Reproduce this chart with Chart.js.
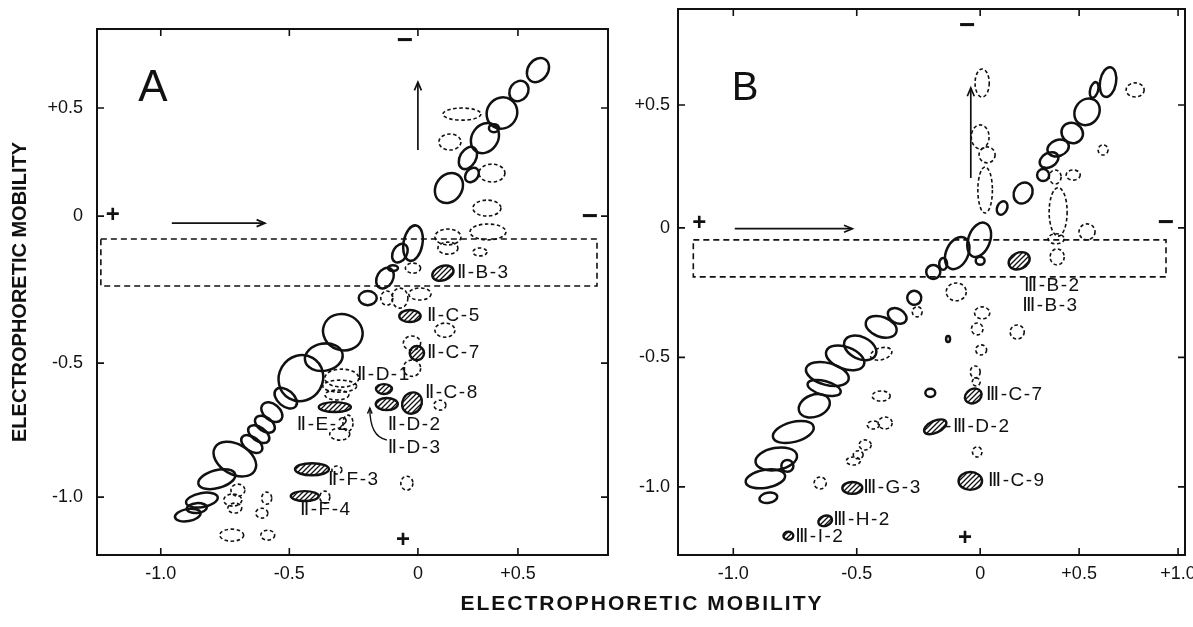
<!DOCTYPE html>
<html>
<head>
<meta charset="utf-8">
<script src="https://cdn.jsdelivr.net/npm/chart.js@4.4.1/dist/chart.umd.min.js"></script>
<style>
  html, body { margin: 0; padding: 0; background: #fff; }
  #page { position: relative; width: 1193px; height: 627px; overflow: hidden; }
  #panel-a { position: absolute; left: 0; top: 0; }
  #panel-b { position: absolute; left: 600px; top: 0; }
  #x-title {
    position: absolute; left: 442px; top: 591px; width: 400px;
    text-align: center; line-height: 30px; color: #111;
    font: bold 21px "Liberation Sans", Arial, sans-serif; letter-spacing: 2px;
  }
</style>
</head>
<body>
<div id="page">
  <canvas id="panel-a" width="640" height="627"></canvas>
  <canvas id="panel-b" width="593" height="627"></canvas>
  <div id="x-title">ELECTROPHORETIC MOBILITY</div>
</div>
<script>
// axis ticks (mobility units)
const yTicks = [-1.0, -0.5, 0, 0.5];
const yTickLabels = ['-1.0', '-0.5', '0', '+0.5'];
const xTicksA = [-1.0, -0.5, 0, 0.5];
const xTickLabelsA = ['-1.0', '-0.5', '0', '+0.5'];
const xTicksB = [-1.0, -0.5, 0, 0.5, 1.0];
const xTickLabelsB = ['-1.0', '-0.5', '0', '+0.5', '+1.0'];

// spots: [x mobility, y mobility, width, height, tilt deg]
const solidA = [
  [0.60, 0.676, 0.10, 0.12, 35], [0.505, 0.579, 0.09, 0.10, 35], [0.42, 0.477, 0.15, 0.148, 35],
  [0.38, 0.407, 0.05, 0.037, 0], [0.335, 0.361, 0.13, 0.148, 35], [0.25, 0.269, 0.08, 0.111, 30],
  [0.27, 0.19, 0.06, 0.074, 40], [0.155, 0.13, 0.13, 0.148, 35], [-0.019, -0.092, 0.078, 0.122, 10],
  [-0.07, -0.126, 0.054, 0.068, 30], [-0.097, -0.177, 0.039, 0.02, 0], [-0.128, -0.211, 0.062, 0.075, 30],
  [-0.195, -0.279, 0.07, 0.048, 0], [-0.292, -0.395, 0.156, 0.122, 20], [-0.366, -0.48, 0.148, 0.095, -10],
  [-0.455, -0.556, 0.171, 0.172, 30], [-0.514, -0.631, 0.101, 0.06, 40], [-0.568, -0.683, 0.093, 0.06, 40],
  [-0.595, -0.728, 0.086, 0.052, 35], [-0.619, -0.765, 0.093, 0.052, 35], [-0.646, -0.802, 0.093, 0.052, 35],
  [-0.712, -0.858, 0.179, 0.112, 30], [-0.782, -0.933, 0.148, 0.067, -15], [-0.84, -1.011, 0.125, 0.052, -10],
  [-0.86, -1.041, 0.078, 0.037, -5], [-0.895, -1.067, 0.101, 0.045, -10]
];
const dashedA = [
  [0.22, 0.472, 0.19, 0.056, 0], [0.16, 0.343, 0.11, 0.074, 0], [0.37, 0.199, 0.13, 0.083, 0],
  [0.345, 0.037, 0.14, 0.074, 0], [0.35, -0.054, 0.18, 0.054, 0], [0.15, -0.071, 0.13, 0.054, 0],
  [0.15, -0.109, 0.10, 0.041, 0], [0.31, -0.122, 0.07, 0.027, 0], [-0.019, -0.177, 0.062, 0.034, 0],
  [-0.121, -0.279, 0.047, 0.048, 0], [-0.07, -0.279, 0.062, 0.068, 0], [0.01, -0.265, 0.10, 0.041, 0],
  [0.135, -0.388, 0.10, 0.048, 0], [-0.023, -0.432, 0.07, 0.048, 0], [-0.023, -0.519, 0.07, 0.06, 0],
  [-0.296, -0.556, 0.132, 0.067, 0], [-0.304, -0.586, 0.132, 0.045, 0], [-0.315, -0.619, 0.093, 0.037, 0],
  [-0.304, -0.765, 0.078, 0.045, 0], [-0.272, -0.724, 0.039, 0.06, 0], [-0.70, -0.974, 0.054, 0.045, 0],
  [-0.72, -1.011, 0.07, 0.045, 0], [-0.712, -1.041, 0.054, 0.037, 0], [-0.588, -1.004, 0.039, 0.045, 0],
  [-0.607, -1.06, 0.047, 0.037, 0], [-0.724, -1.142, 0.093, 0.045, 0], [-0.584, -1.142, 0.054, 0.037, 0],
  [-0.315, -0.899, 0.039, 0.03, 0], [-0.362, -1.0, 0.039, 0.045, 0], [-0.043, -0.948, 0.047, 0.052, 0],
  [0.11, -0.657, 0.06, 0.037, 0]
];
const hatchedA = [
  [0.125, -0.194, 0.11, 0.048, -20], [-0.031, -0.34, 0.086, 0.041, 0], [-0.004, -0.466, 0.062, 0.048, 0],
  [-0.132, -0.597, 0.062, 0.037, 0], [-0.121, -0.653, 0.086, 0.045, 0], [-0.023, -0.649, 0.078, 0.082, 30],
  [-0.323, -0.664, 0.125, 0.037, 0], [-0.412, -0.896, 0.132, 0.045, 0], [-0.44, -0.996, 0.109, 0.037, 0]
];
const labelsA = [
  ['Ⅱ-B-3', 0.195, -0.194], ['Ⅱ-C-5', 0.045, -0.34], ['Ⅱ-C-7', 0.045, -0.466],
  ['Ⅱ-D-1', -0.237, -0.545], ['Ⅱ-C-8', 0.035, -0.612], ['Ⅱ-E-2', -0.471, -0.731],
  ['Ⅱ-D-2', -0.117, -0.731], ['Ⅱ-D-3', -0.117, -0.817], ['Ⅱ-F-3', -0.35, -0.937],
  ['Ⅱ-F-4', -0.459, -1.049]
];

const solidB = [
  [0.646, 0.593, 0.081, 0.122, 10], [0.576, 0.561, 0.04, 0.065, 15], [0.54, 0.472, 0.121, 0.114, 35],
  [0.465, 0.386, 0.111, 0.081, 30], [0.394, 0.325, 0.111, 0.065, -20], [0.348, 0.276, 0.101, 0.057, -30],
  [0.318, 0.215, 0.061, 0.049, 0], [0.217, 0.142, 0.091, 0.089, 30], [0.111, 0.081, 0.05, 0.057, 25],
  [-0.004, -0.046, 0.097, 0.139, 20], [-0.093, -0.097, 0.089, 0.131, 25], [0, -0.127, 0.04, 0.031, 0],
  [-0.15, -0.139, 0.032, 0.046, 0], [-0.19, -0.17, 0.057, 0.054, 0], [-0.267, -0.27, 0.057, 0.054, 20],
  [-0.336, -0.34, 0.081, 0.054, 30], [-0.401, -0.382, 0.13, 0.077, 20], [-0.486, -0.463, 0.138, 0.085, 25],
  [-0.547, -0.502, 0.162, 0.085, 20], [-0.619, -0.564, 0.178, 0.085, 15], [-0.632, -0.618, 0.138, 0.054, 15],
  [-0.672, -0.687, 0.13, 0.085, -20], [-0.757, -0.788, 0.17, 0.077, -15], [-0.826, -0.892, 0.17, 0.085, -10],
  [-0.781, -0.919, 0.049, 0.046, 0], [-0.87, -0.969, 0.162, 0.069, -10], [-0.858, -1.042, 0.073, 0.039, -10],
  [-0.202, -0.637, 0.04, 0.031, 0], [-0.13, -0.429, 0.016, 0.023, 0]
];
const dashedB = [
  [0.01, 0.589, 0.066, 0.114, 0], [0, 0.37, 0.08, 0.098, 0], [0.035, 0.297, 0.08, 0.065, 0],
  [0.025, 0.154, 0.071, 0.187, 0], [0.379, 0.207, 0.06, 0.057, 0], [0.47, 0.215, 0.071, 0.041, 0],
  [0.394, 0.065, 0.091, 0.195, 0], [0.384, -0.042, 0.081, 0.039, 0], [0.389, -0.112, 0.071, 0.062, 0],
  [0.54, -0.015, 0.081, 0.062, 0], [0.621, 0.317, 0.05, 0.041, 0], [0.783, 0.561, 0.091, 0.057, 0],
  [-0.097, -0.247, 0.081, 0.069, 0], [-0.255, -0.324, 0.04, 0.039, 0], [-0.401, -0.486, 0.089, 0.046, -15],
  [-0.401, -0.649, 0.073, 0.039, 0], [-0.433, -0.761, 0.049, 0.031, 0], [-0.385, -0.753, 0.057, 0.046, 0],
  [-0.466, -0.838, 0.049, 0.039, 0], [-0.494, -0.876, 0.04, 0.031, 0], [-0.514, -0.9, 0.057, 0.031, 0],
  [-0.648, -0.985, 0.049, 0.046, 0], [0.01, -0.328, 0.071, 0.046, 0], [-0.012, -0.39, 0.049, 0.046, 0],
  [0.005, -0.471, 0.05, 0.039, 0], [-0.02, -0.556, 0.04, 0.046, 0], [-0.016, -0.595, 0.032, 0.031, 0],
  [-0.012, -0.865, 0.04, 0.039, 0], [0.187, -0.402, 0.071, 0.054, 0]
];
const hatchedB = [
  [0.197, -0.127, 0.111, 0.062, -25], [-0.028, -0.649, 0.073, 0.054, -30], [-0.182, -0.768, 0.097, 0.046, -25],
  [-0.04, -0.977, 0.097, 0.069, 0], [-0.518, -1.004, 0.081, 0.046, 0], [-0.628, -1.131, 0.057, 0.039, -20],
  [-0.777, -1.189, 0.04, 0.031, 0]
];
const labelsB = [
  ['Ⅲ-B-2', 0.222, -0.224], ['Ⅲ-B-3', 0.212, -0.301], ['Ⅲ-C-7', 0.03, -0.645],
  ['-Ⅲ-D-2', -0.142, -0.768], ['Ⅲ-C-9', 0.04, -0.977], ['Ⅲ-G-3', -0.474, -1.004],
  ['Ⅲ-H-2', -0.595, -1.127], ['Ⅲ-I-2', -0.749, -1.193]
];

// electrode signs, direction arrows, sample window, leader
const polesA = [['+', -1.187, 0.005], ['−', 0.86, -0.003], ['−', -0.05, 0.81], ['+', -0.058, -1.16]];
const polesB = [['+', -1.138, 0.02], ['−', 0.939, 0.02], ['−', -0.053, 0.821], ['+', -0.061, -1.197]];
const arrowsA = [[-0.957, -0.024, -0.595, -0.024], [0, 0.306, 0, 0.62]];
const arrowsB = [[-0.994, -0.003, -0.518, -0.003], [-0.038, 0.203, -0.038, 0.569]];
const windowA = [-1.233, -0.078, 0.895, -0.238];
const windowB = [-1.162, -0.046, 0.939, -0.189];
const leaderA = [-0.121, -0.787, -0.187, -0.776, -0.187, -0.668];

// linear axis whose scale changes at the knots (gain = px per unit on each side)
class MobilityScale extends Chart.LinearScale {
  static id = 'mobility';
  warp(v) {
    const k = this.options.knots, g = this.options.gains;
    if (v <= k[0]) return (v - k[0]) * g[0];
    let w = 0;
    for (let i = 1; i < k.length; i++) {
      if (v <= k[i]) return w + (v - k[i - 1]) * g[i];
      w += (k[i] - k[i - 1]) * g[i];
    }
    return w + (v - k[k.length - 1]) * g[k.length];
  }
  unwarp(w) {
    const k = this.options.knots, g = this.options.gains;
    if (w <= 0) return k[0] + w / g[0];
    let acc = 0;
    for (let i = 1; i < k.length; i++) {
      const seg = (k[i] - k[i - 1]) * g[i];
      if (w <= acc + seg) return k[i - 1] + (w - acc) / g[i];
      acc += seg;
    }
    return k[k.length - 1] + (w - acc) / g[k.length];
  }
  getPixelForValue(value) {
    if (value === null || isNaN(value)) return NaN;
    const a = this.warp(this.min), b = this.warp(this.max);
    return this.getPixelForDecimal((this.warp(value) - a) / (b - a));
  }
  getValueForPixel(pixel) {
    const a = this.warp(this.min), b = this.warp(this.max);
    return this.unwarp(a + this.getDecimalForPixel(pixel) * (b - a));
  }
}
Chart.register(MobilityScale);

const INK = '#111';
const FONT = '"Liberation Sans", "DejaVu Sans", Arial, sans-serif';

const hatchTile = (() => {
  const c = document.createElement('canvas');
  c.width = 5; c.height = 5;
  const g = c.getContext('2d');
  g.strokeStyle = INK; g.lineWidth = 1.3;
  g.beginPath();
  g.moveTo(-1, 6); g.lineTo(6, -1);
  g.moveTo(-1, 1); g.lineTo(1, -1);
  g.moveTo(4, 6); g.lineTo(6, 4);
  g.stroke();
  return c;
})();

function arrowHead(ctx, x1, y1, x2, y2, size) {
  const a = Math.atan2(y2 - y1, x2 - x1);
  ctx.beginPath();
  ctx.moveTo(x2 - size * Math.cos(a - 0.4), y2 - size * Math.sin(a - 0.4));
  ctx.lineTo(x2, y2);
  ctx.lineTo(x2 - size * Math.cos(a + 0.4), y2 - size * Math.sin(a + 0.4));
  ctx.stroke();
}

const gelPlugin = {
  id: 'gel',
  afterDatasetsDraw(chart, args, opts) {
    const { ctx, chartArea: area, scales: { x, y } } = chart;
    const px = v => x.getPixelForValue(v), py = v => y.getPixelForValue(v);
    ctx.save();
    ctx.strokeStyle = INK;
    ctx.fillStyle = INK;

    // sample window
    const w = opts.window;
    ctx.setLineDash([6, 4]);
    ctx.lineWidth = 1.6;
    ctx.strokeRect(px(w[0]), py(w[1]), px(w[2]) - px(w[0]), py(w[3]) - py(w[1]));

    // spots
    const pattern = ctx.createPattern(hatchTile, 'repeat');
    chart.data.datasets.forEach((ds, i) => {
      const meta = chart.getDatasetMeta(i);
      meta.data.forEach((el, j) => {
        const s = ds.data[j];
        const rx = Math.abs(px(s.x + s.w / 2) - px(s.x - s.w / 2)) / 2;
        const ry = Math.abs(py(s.y + s.h / 2) - py(s.y - s.h / 2)) / 2;
        ctx.beginPath();
        ctx.ellipse(el.x, el.y, rx, ry, s.t * Math.PI / 180, 0, Math.PI * 2);
        if (ds.kind === 'hatched') {
          ctx.fillStyle = pattern; ctx.fill();
          ctx.setLineDash([]); ctx.lineWidth = 2.4;
        } else if (ds.kind === 'dashed') {
          ctx.setLineDash([3.5, 2.5]); ctx.lineWidth = 1.6;
        } else {
          ctx.setLineDash([]); ctx.lineWidth = 2.5;
        }
        ctx.stroke();
      });
    });
    ctx.fillStyle = INK;
    ctx.setLineDash([]);

    // arrows
    ctx.lineWidth = 1.7;
    opts.arrows.forEach(a => {
      const x1 = px(a[0]), y1 = py(a[1]), x2 = px(a[2]), y2 = py(a[3]);
      ctx.beginPath(); ctx.moveTo(x1, y1); ctx.lineTo(x2, y2); ctx.stroke();
      arrowHead(ctx, x1, y1, x2, y2, 9);
    });
    if (opts.leader) {
      const l = opts.leader;
      ctx.lineWidth = 1.4;
      ctx.beginPath();
      ctx.moveTo(px(l[0]), py(l[1]));
      ctx.quadraticCurveTo(px(l[2]), py(l[3]), px(l[4]), py(l[5]));
      ctx.stroke();
      arrowHead(ctx, px(l[2]), py(l[3]), px(l[4]), py(l[5]), 6);
    }

    // spot names
    ctx.font = '19px ' + FONT;
    ctx.letterSpacing = '1.5px';
    ctx.textAlign = 'left';
    ctx.textBaseline = 'middle';
    opts.labels.forEach(l => ctx.fillText(l[0], px(l[1]), py(l[2])));
    ctx.letterSpacing = '0px';

    // electrode signs
    ctx.textAlign = 'center';
    opts.poles.forEach(p => {
      ctx.font = (p[0] === '+' ? 'bold 24px ' : 'bold 28px ') + FONT;
      ctx.fillText(p[0], px(p[1]), py(p[2]));
    });

    // panel letter
    ctx.font = opts.letterSize + 'px ' + FONT;
    ctx.fillText(opts.letter, area.left + opts.letterAt[0], area.top + opts.letterAt[1]);
    ctx.restore();
  },
  afterDraw(chart) {
    const { ctx, chartArea: a, scales: { x, y } } = chart;
    ctx.save();
    ctx.strokeStyle = INK;
    ctx.lineWidth = 2;
    ctx.strokeRect(a.left, a.top, a.right - a.left, a.bottom - a.top);
    ctx.lineWidth = 1.6;
    ctx.beginPath();
    x.ticks.forEach(t => {
      const p = x.getPixelForValue(t.value);
      ctx.moveTo(p, a.bottom); ctx.lineTo(p, a.bottom - 7);
      ctx.moveTo(p, a.top); ctx.lineTo(p, a.top + 7);
    });
    y.ticks.forEach(t => {
      const p = y.getPixelForValue(t.value);
      ctx.moveTo(a.left, p); ctx.lineTo(a.left + 7, p);
      ctx.moveTo(a.right, p); ctx.lineTo(a.right - 7, p);
    });
    ctx.stroke();
    ctx.restore();
  }
};

const asPoints = list => list.map(s => ({ x: s[0], y: s[1], w: s[2], h: s[3], t: s[4] }));

function spotSets(solid, dashed, hatched) {
  const base = { pointRadius: 0, pointHoverRadius: 0, showLine: false };
  return [
    Object.assign({ label: 'solid', kind: 'solid', data: asPoints(solid) }, base),
    Object.assign({ label: 'dashed', kind: 'dashed', data: asPoints(dashed) }, base),
    Object.assign({ label: 'hatched', kind: 'hatched', data: asPoints(hatched) }, base)
  ];
}

function axis(cfg) {
  return {
    type: 'mobility',
    min: cfg.min, max: cfg.max, knots: cfg.knots, gains: cfg.gains, bounds: 'data',
    grid: { display: false, drawTicks: false },
    border: { display: false },
    title: cfg.title || { display: false },
    ticks: {
      autoSkip: false, maxRotation: 0, padding: cfg.pad, color: INK,
      font: { family: FONT, size: 18 },
      callback: v => {
        const i = cfg.ticks.indexOf(v);
        return i < 0 ? '' : cfg.labels[i];
      }
    },
    afterBuildTicks: s => { s.ticks = cfg.ticks.map(v => ({ value: v })); },
    afterFit: s => {
      // keep the plot box fixed; edge labels may overhang it
      s.paddingTop = s.paddingBottom = s.paddingLeft = s.paddingRight = 0;
      if (cfg.width) s.width = cfg.width;
      if (cfg.height) s.height = cfg.height;
    }
  };
}

function makePanel(id, opt) {
  return new Chart(document.getElementById(id), {
    type: 'scatter',
    data: { datasets: spotSets(opt.solid, opt.dashed, opt.hatched) },
    options: {
      responsive: false,
      animation: false,
      events: [],
      layout: { padding: opt.padding },
      plugins: {
        legend: { display: false },
        tooltip: { enabled: false },
        gel: opt.gel
      },
      scales: { x: axis(opt.x), y: axis(opt.y) }
    },
    plugins: [gelPlugin]
  });
}

makePanel('panel-a', {
  solid: solidA, dashed: dashedA, hatched: hatchedA,
  padding: { left: 0, top: 29, right: 32, bottom: 0 },
  x: { min: -1.248, max: 0.95, knots: [0], gains: [257, 200], ticks: xTicksA, labels: xTickLabelsA, pad: 8, height: 72 },
  y: {
    min: -1.216, max: 0.866, knots: [-0.5, 0], gains: [268, 294, 216], ticks: yTicks, labels: yTickLabels, pad: 14, width: 97,
    title: {
      display: true, text: 'ELECTROPHORETIC MOBILITY', color: INK,
      font: { family: FONT, size: 20, weight: 'bold' }, padding: { top: 8, bottom: 0 }
    }
  },
  gel: { letter: 'A', letterAt: [56, 60], letterSize: 44, labels: labelsA, poles: polesA, arrows: arrowsA, window: windowA, leader: leaderA }
});

makePanel('panel-b', {
  solid: solidB, dashed: dashedB, hatched: hatchedB,
  padding: { left: 0, top: 9, right: 8, bottom: 0 },
  x: { min: -1.224, max: 1.035, knots: [0], gains: [247, 198], ticks: xTicksB, labels: xTickLabelsB, pad: 8, height: 72 },
  y: { min: -1.263, max: 0.89, knots: [0], gains: [259, 246], ticks: yTicks, labels: yTickLabels, pad: 8, width: 78 },
  gel: { letter: 'B', letterAt: [67, 80], letterSize: 40, labels: labelsB, poles: polesB, arrows: arrowsB, window: windowB, leader: null }
});
</script>
</body>
</html>
